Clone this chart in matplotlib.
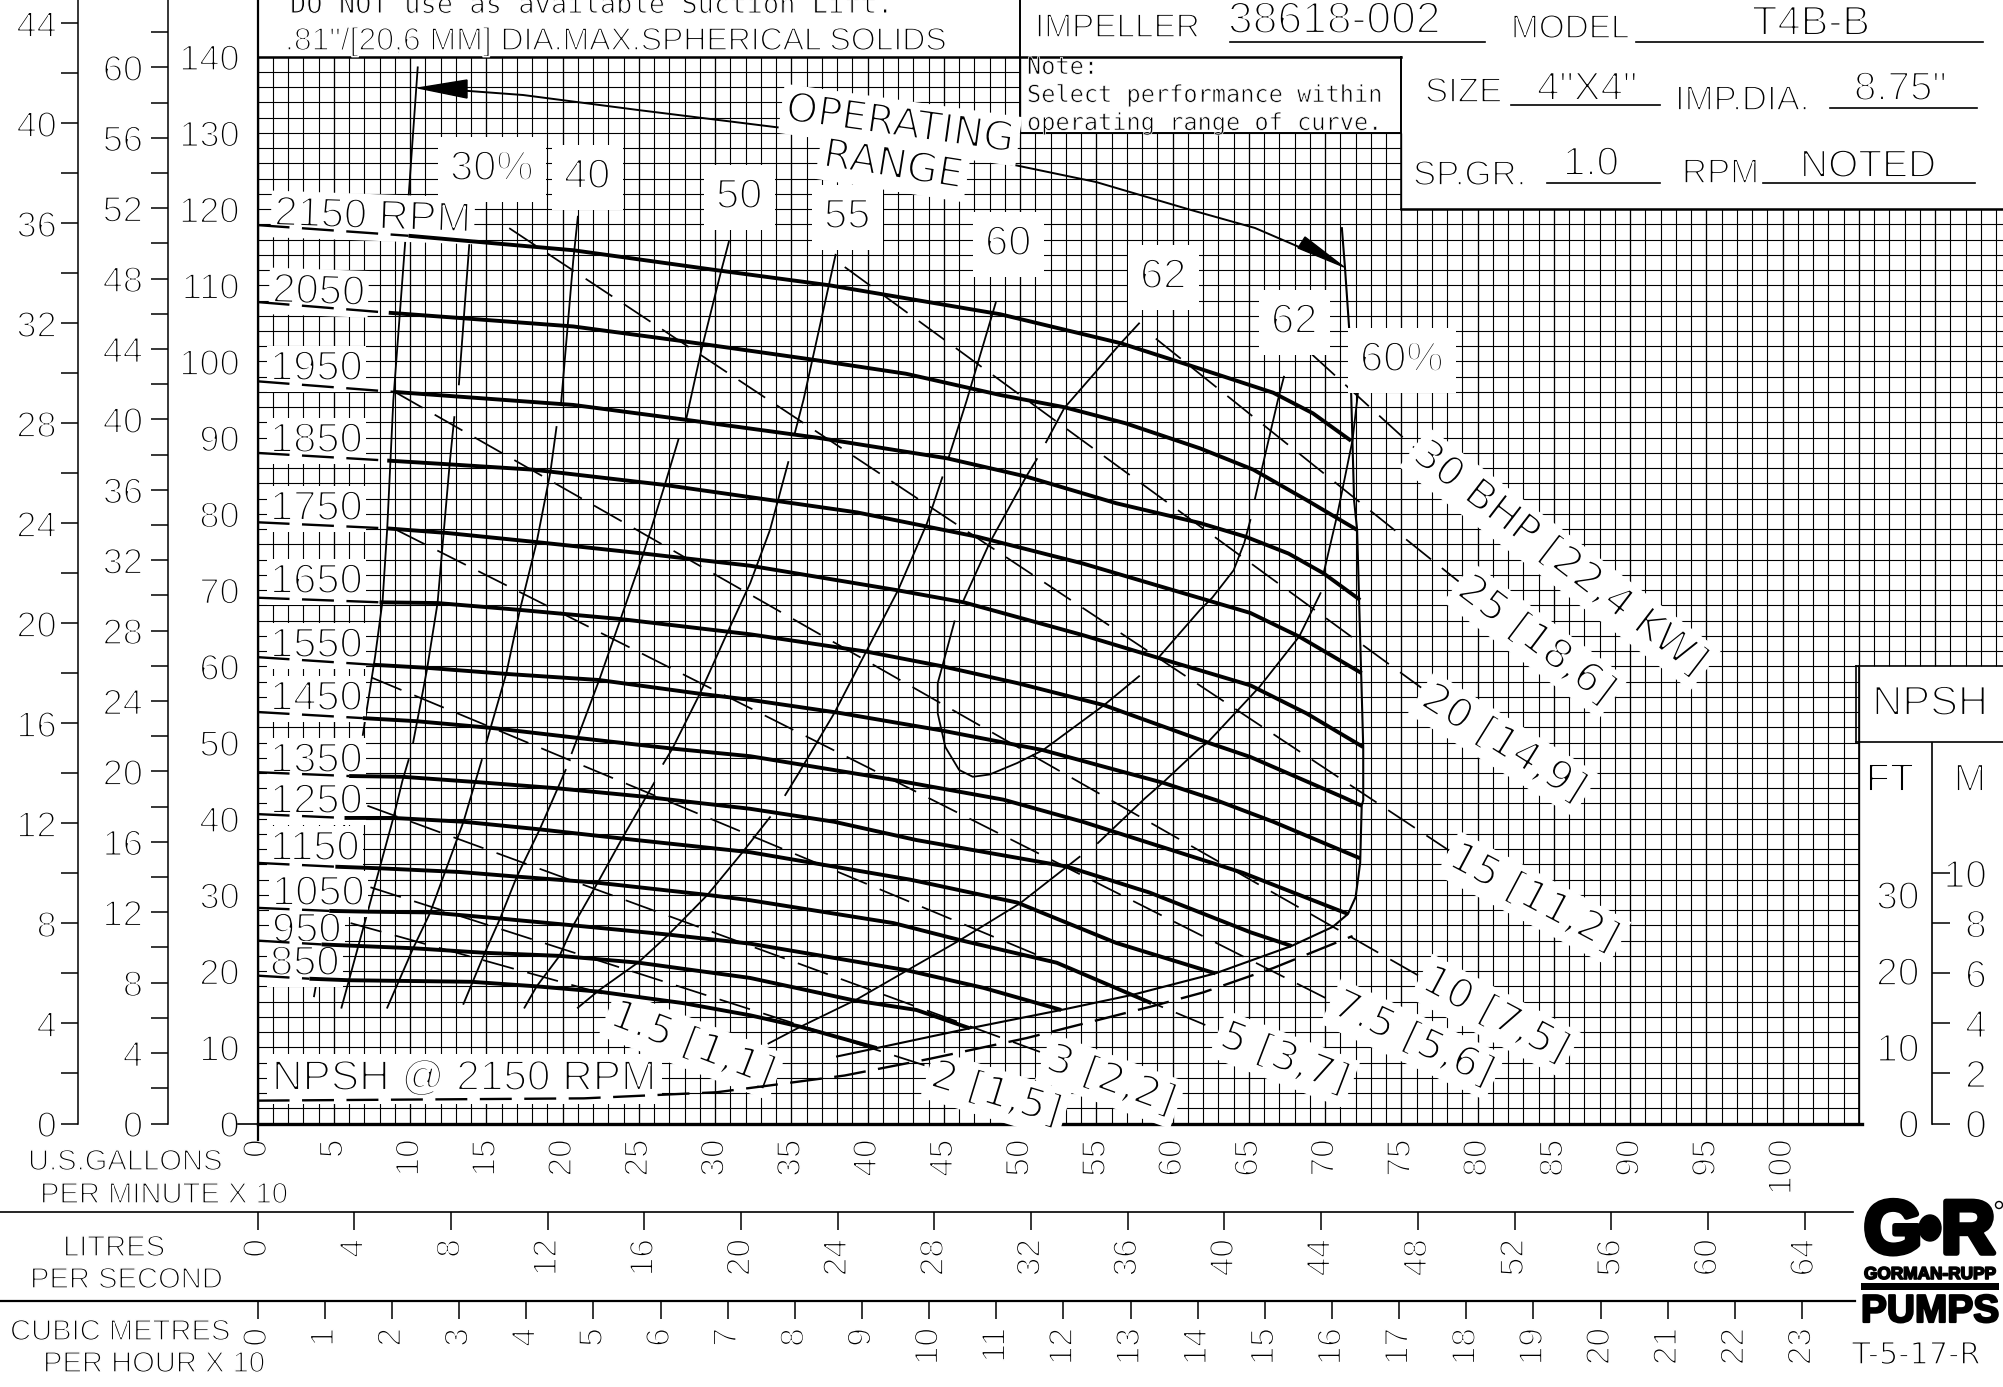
import numpy as np
import matplotlib
matplotlib.use("Agg")
import matplotlib.pyplot as plt
import matplotlib.patheffects as pe
from matplotlib.patches import Ellipse, Rectangle

plt.rcParams['font.family'] = ['Liberation Sans', 'DejaVu Sans']
plt.rcParams['lines.scale_dashes'] = False

# head-capacity curves, capacity in GPM x 10, head in ft
rpm_names = [2150, 2050, 1950, 1850, 1750, 1650, 1550, 1450, 1350, 1250, 1150, 1050, 950, 850]
shutoff_head = [117.9, 107.8, 97.4, 88, 78.9, 69, 61.2, 54, 46.1, 40.6, 34.2, 28.3, 24, 19.4]

q_2150 = [9.9, 20.7, 30.4, 37.5, 48.7, 56.6, 60.8, 66.6, 69.2, 71.7]
h_2150 = [116.5, 114.6, 111.9, 110, 106.2, 102.4, 99.7, 95.9, 93.2, 89.6]
q_2050 = [8.6, 20.7, 27.4, 36.2, 42.5, 48.7, 52.9, 56.9, 61.8, 65.3, 68.8, 72.1]
h_2050 = [106.4, 104.6, 102.8, 100.3, 98.4, 95.6, 94, 91.9, 88.6, 85.8, 81.8, 77.9]
q_1950 = [9, 20.7, 27.9, 36.7, 45.2, 50.4, 56.3, 61.8, 64.8, 67.6, 69.9, 72.3]
h_1950 = [96, 94.3, 92.4, 90, 87.3, 84.9, 81.4, 78.8, 77, 74.8, 72.2, 68.7]
q_1850 = [8.5, 12.6, 18.1, 26.7, 32.3, 39.3, 47.2, 54.1, 60.7, 65.1, 68.3, 72.4]
h_1850 = [87, 86.5, 85.8, 83.8, 82.2, 80.2, 77, 73.5, 69.6, 67, 63.9, 59.1]
q_1750 = [8.5, 12.4, 18.3, 25.3, 32.3, 41.9, 46.3, 54.1, 58.9, 65.1, 68.8, 72.5]
h_1750 = [78.1, 77.5, 76.3, 74.8, 73.2, 70, 68.4, 64.1, 61.2, 57.5, 53.8, 49.4]
q_1650 = [8, 11.8, 17.2, 23.8, 32.3, 40, 44.9, 49.8, 55.5, 62.3, 65.1, 71.2, 72.4]
h_1650 = [68.4, 68.3, 67.4, 66.2, 64.2, 61.9, 60, 57.8, 54.9, 50, 48.1, 42.8, 41.7]
q_1550 = [7.6, 11.1, 16.3, 22.4, 29, 32.3, 38.1, 44.8, 51.5, 59.4, 62.9, 66.6, 72.3]
h_1550 = [60.2, 59.8, 59, 58.2, 56.4, 55.6, 53.9, 51.6, 49, 44.7, 42.4, 39.6, 34.8]
q_1450 = [6.9, 10.4, 15.4, 21, 27.2, 32.3, 41.7, 48.9, 54.1, 61.8, 64.6, 71.5]
h_1450 = [53.2, 52.8, 51.9, 50.6, 49.2, 48.2, 45.1, 42.5, 39.6, 34.7, 32.9, 27.5]
q_1350 = [6, 9.5, 14.4, 19.6, 25.3, 32.3, 37.8, 43.2, 53.1, 58.5, 61.8, 65.1, 67.8]
h_1350 = [45.6, 45.5, 44.8, 44, 42.9, 41.3, 39.6, 37.2, 33.7, 30.3, 27.7, 25.1, 23.3]
q_1250 = [5.7, 8.9, 13.5, 18.5, 23.9, 32.3, 42.8, 49.8, 56.3, 62.8]
h_1250 = [40.1, 40.1, 39.6, 38.6, 37.4, 35.6, 32, 29, 23.7, 19.7]
q_1150 = [5.1, 7.9, 13.3, 17, 22.3, 29.5, 32.3, 41.7, 46, 52.4, 58.6]
h_1150 = [33.7, 33.5, 33, 32.4, 31.6, 30, 29.3, 26.3, 24.1, 21.1, 15.8]
q_1050 = [4.7, 7.2, 11.3, 15.9, 20.7, 26.9, 32.3, 42.6, 47.6, 52.7]
h_1050 = [27.9, 27.8, 27.7, 26.9, 26, 24.8, 23.6, 20.1, 17.8, 14.9]
q_950 = [4.2, 10.2, 14.9, 19.8, 25, 32.3, 39, 43.2, 46.7]
h_950 = [23.5, 23, 22.4, 22, 21.1, 19.1, 16.2, 14.9, 12.5]
q_850 = [3.4, 6, 14, 18.3, 22.4, 27.9, 32.3, 35.6, 40.6]
h_850 = [19, 18.8, 18.6, 18, 17.3, 15.8, 14.2, 12.7, 9.9]

rpm_q = [q_2150, q_2050, q_1950, q_1850, q_1750, q_1650, q_1550, q_1450, q_1350, q_1250, q_1150, q_1050, q_950, q_850]
rpm_h = [h_2150, h_2050, h_1950, h_1850, h_1750, h_1650, h_1550, h_1450, h_1350, h_1250, h_1150, h_1050, h_950, h_850]

# efficiency curves, nan marks a break in the pen
nan = float('nan')
eff_30_q = [3.7, 5.2, 6.3, nan, 6.9, 7.7, 8.2, 8.5, 8.9, 9.9, 10.5]
eff_30_h = [16.7, 33.8, 46, nan, 51, 61.2, 68.7, 78.1, 94.9, 121.6, 138.6]
eff_35_q = [5.5, 8.9, 9.5, 9.9, nan, 10.2, 11.1, 11.8, 12.6, 12.9, nan, 13.2, 13.9]
eff_35_h = [15.2, 40.1, 45, 47.7, nan, 50, 59.5, 68.3, 86.7, 92.7, nan, 97, 115.9]
eff_40_q = [8.5, 10.2, 11.3, 13.5, 14.3, 14.7, nan, 15, 16.3, 17.2, 18.3, 19.2, 19.6, nan, 19.9, 20.7, 21]
eff_40_h = [15.2, 23, 27.6, 39.6, 45, 47.7, nan, 50, 59, 67.4, 76.3, 85.5, 91.4, nan, 94.5, 113.3, 119]
eff_50_q = [13.5, 14.9, 15.9, 17, 18.5, 19.9, 20.2, nan, 20.6, 22.4, 23.8, 25.3, 26.7, 27.6, nan, 28.1, 29.1, 30.4, 30.9]
eff_50_h = [15.7, 22.4, 26.9, 32.4, 38.6, 45, 46.4, nan, 48.6, 58.2, 66.2, 74.8, 83.8, 89.8, nan, 92.4, 101.5, 111.9, 115.7]
eff_55_q = [17.5, 18.3, 19.8, 20.7, 22.3, 23.9, 26, nan, 26.6, 27.2, 29, 30.8, 32.3, 33.6, 34.8, nan, 35.2, 35.8, 37.9]
eff_55_h = [15.2, 18, 22, 26, 31.6, 37.4, 44.7, nan, 47.2, 49.2, 56.4, 64.4, 70.9, 77.9, 86.8, nan, 90.4, 95, 114]
eff_60_q = [21, 22.4, 25, 26.9, 29.5, 31.8, 33.6, nan, 34.6, 35.4, 37.8, 39.9, 42, 43.9, 44.9, nan, 45.3, 46.5, 48.4]
eff_60_h = [15.2, 17.5, 21.2, 24.7, 30, 35.6, 40.2, nan, 43.1, 45.7, 53.8, 61.9, 70, 78.8, 84.8, nan, 87.3, 94.9, 107.7]
eff_62_q = [57.8, 56.6, 52.9, 51.7, nan, 51.1, 50.4, 48, 46.3, nan, 45.7, 44.9, 44.6, 44.6, 45.1, 46, 46.9, 48, 49.8, 51.5, 55.5, 57.8, nan,
            59.1, 61.8, 62.6, 64, 64.7, 65.1, nan, 65.4, 66.9, 67.3]
eff_62_h = [105, 102.4, 93.9, 89.4, nan, 87.2, 84.9, 76.2, 68.7, nan, 65.9, 60, 57.8, 53.8, 49.4, 46.4, 45.5, 45.8, 47.3, 49, 54.9, 58.7, nan,
            61.2, 67.4, 69, 72.6, 76.2, 79.2, nan, 82, 94.9, 98]
eff_r60_q = [33.5, 35.6, 39.3, 42.6, 46, 50, 53.9, nan, 55.1, 58.2, 59.4, 61.8, 62.3, 65.7, 68.3, 69.7, nan, 69.9, 70.8, 71.8, 72.2]
eff_r60_h = [10.5, 12.7, 16.3, 20.1, 24, 28.9, 35, nan, 36.8, 42.7, 44.8, 49.3, 50, 57.3, 63.9, 69.6, nan, 72.2, 79.9, 89.7, 96.7]

eff_q = [eff_30_q, eff_35_q, eff_40_q, eff_50_q, eff_55_q, eff_60_q, eff_62_q, eff_r60_q]
eff_h = [eff_30_h, eff_35_h, eff_40_h, eff_50_h, eff_55_h, eff_60_h, eff_62_h, eff_r60_h]

# operating range limit, right side and bottom
limit_q = [71.1, 71.3, 71.6, 71.9, 72.1, 72.5, 72.5, 72.4, 72.3, 72, 71.5, 70.5, 67.8, 62.8, 57.4, 52.7, 46.7, 40.6, 38]
limit_h = [117.5, 112.4, 103.7, 81.8, 77.9, 49.4, 42.4, 41.7, 34.2, 29.7, 27.5, 25.8, 23.3, 19.7, 16.9, 14.9, 12.5, 9.9, 8.8]

npsh_q = [0, 21.4, 30.1, 33.6, 38.5, 44.1, 50.4, 58.5, 62, 66.6, 71.8]
npsh_h = [3, 3.3, 4.1, 5, 6.3, 8.5, 11.2, 15.3, 17.2, 20.4, 24.6]

# brake horsepower lines, start and end of each
bhp_q = [[6.1, 27], [7.4, 44.1], [7.2, 51.3], [7.5, 62.9], [9.1, 70.4], [9, 76.4], [16.5, 78.3], [38.5, 76.3], [58.9, 78.9], [69.1, 75.9]]
bhp_h = [[26.3, 14.6], [31, 7.4], [41.7, 9.4], [58.5, 12.3], [77.9, 16.1], [96, 19.1], [117.5, 35.6], [112.4, 57.2], [103, 70.9], [101, 88.6]]
bhp_text = ["1.5 [1,1]", "2 [1,5]", "3 [2,2]", "5 [3,7]", "7.5 [5,6]", "10 [7,5]", "15 [11,2]", "20 [14,9]", "25 [18,6]", "30 BHP [22,4 KW]"]

gpm_ticks = list(range(0, 101, 5))
lps_ticks = list(range(0, 65, 4))
cmh_ticks = list(range(0, 24))
ft_ticks = list(range(0, 141, 10))
psi_ticks = list(range(0, 61, 4))
psi_minor = list(range(2, 63, 4))
m_ticks = list(range(0, 45, 4))
m_minor = list(range(2, 47, 4))
npsh_m = [0, 2, 4, 6, 8, 10]
npsh_ft = [0, 10, 20, 30]

W, H = 2003, 1387
X0, Y0 = 257.6, 1123.5
fig = plt.figure(figsize=(W / 100, H / 100), dpi=100)
ax = fig.add_axes([X0 / W, 1 - Y0 / H, 1 - X0 / W, Y0 / H])
xmax = (W - X0) / 15.25
ymax = Y0 / 7.62
ax.set_xlim(0, xmax)
ax.set_ylim(0, ymax)
for s in ax.spines.values():
    s.set_visible(False)


def thin(size, k=0.05):
    return [pe.Stroke(linewidth=size * k, foreground='white')]


# paper grid, stepped outline like the original sheet
for q in range(0, 115):
    lo = 60 if q > 105 else 0
    hi = 120 if q > 75 else (130 if q > 50 else 140)
    ax.vlines(q, lo, hi, color='k', lw=0.95 if q % 5 == 0 else 0.8, zorder=1)
for h in range(0, 141, 2):
    if h > 130:
        right = 50
    elif h > 120:
        right = 75
    elif h > 60:
        right = xmax
    else:
        right = 105
    ax.hlines(h, 0, right, color='k', lw=0.8, zorder=1)

ax.plot([0, 0], [-2.2, ymax], color='k', lw=1.6, clip_on=False, zorder=2)
ax.plot([0, 105.2], [0, 0], color='k', lw=2.4, clip_on=False, zorder=2)
ax.plot([-1.3, 0], [0, 0], color='k', lw=1.2, clip_on=False, zorder=2)
ax.plot([0, 75], [140, 140], color='k', lw=1.8, zorder=2)
ax.plot([75, xmax], [120, 120], color='k', lw=1.8, zorder=2)
ax.plot([50, 50], [130, ymax], color='k', lw=1.4, zorder=2)
ax.plot([50, 75, 75], [130, 130, 140], color='k', lw=1.4, zorder=2)
ax.plot([75, 75], [120, 130], color='k', lw=1.1, zorder=2)
ax.plot([105, 105], [0, 60], color='k', lw=1.2, zorder=2)

# thin curves sit under the white label boxes
for q, h in zip(eff_q, eff_h):
    ax.plot(q, h, color='k', lw=1.3, solid_joinstyle='round', zorder=3)
ax.plot(limit_q, limit_h, color='k', lw=1.5, zorder=3)
for q, h in zip(bhp_q, bhp_h):
    ax.plot(q, h, color='k', lw=1.25, dashes=(23, 10), zorder=3)

# bottom and side scales
size_tick = 24
ax.set_xticks(gpm_ticks)
ax.set_yticks([])
ax.tick_params(axis='x', length=0, pad=11.5, labelsize=size_tick, labelrotation=90)
for t in ax.get_xticklabels():
    t.set_path_effects(thin(size_tick))

sec_lps = ax.secondary_xaxis(-88.5 / Y0, functions=(lambda q: q * 0.6309, lambda v: v / 0.6309))
sec_lps.set_xticks(lps_ticks)
sec_cmh = ax.secondary_xaxis(-177.5 / Y0, functions=(lambda q: q * 0.2271, lambda v: v / 0.2271))
sec_cmh.set_xticks(cmh_ticks)
for sec in (sec_lps, sec_cmh):
    sec.spines['bottom'].set_visible(False)
    sec.tick_params(axis='x', length=13, width=1.1, pad=6.5, labelsize=size_tick, labelrotation=90)
    for t in sec.get_xticklabels():
        t.set_path_effects(thin(size_tick))

left_scales = [
    ((78.4 - X0) / (W - X0), 3.281, m_ticks, m_minor, 3.6),
    ((168 - X0) / (W - X0), 2.31, psi_ticks, psi_minor, 6),
]
for loc, factor, major, minor, pad in left_scales:
    sec = ax.secondary_yaxis(loc, functions=(lambda h, f=factor: h / f, lambda v, f=factor: v * f))
    sec.set_yticks(major)
    sec.set_yticks(minor, minor=True)
    sec.spines['right'].set_visible(False)
    sec.spines['top'].set_visible(False)
    sec.spines['bottom'].set_visible(False)
    sec.spines['left'].set_linewidth(1.1)
    sec.tick_params(axis='y', which='both', length=12, width=1.1, pad=pad, labelsize=26)
    for t in sec.get_yticklabels():
        t.set_path_effects(thin(26))

sec_ft = ax.secondary_yaxis(0, functions=(lambda h: h, lambda h: h))
sec_ft.set_yticks(ft_ticks)
sec_ft.spines['left'].set_visible(False)
sec_ft.tick_params(axis='y', length=0, pad=13, labelsize=26)
for t in sec_ft.get_yticklabels():
    t.set_path_effects(thin(26))

npsh_loc = (1932 - X0) / (W - X0)
ax.plot([npsh_loc * xmax] * 2, [0, 50], color='k', lw=1.2, clip_on=False, zorder=2)
sec_m = ax.secondary_yaxis(npsh_loc, functions=(lambda h: h / 3.281, lambda v: v * 3.281))
sec_m.yaxis.tick_right()
sec_m.set_yticks(npsh_m)
sec_m.spines['left'].set_visible(False)
sec_m.spines['right'].set_visible(False)
sec_m.tick_params(axis='y', length=13, width=1.1, pad=26.5, labelsize=28)
for t in sec_m.get_yticklabels():
    t.set_ha('right')
    t.set_path_effects(thin(28))
sec_f = ax.secondary_yaxis(npsh_loc, functions=(lambda h: h, lambda h: h))
sec_f.yaxis.tick_left()
sec_f.set_yticks(npsh_ft)
sec_f.spines['left'].set_visible(False)
sec_f.spines['right'].set_visible(False)
sec_f.tick_params(axis='y', length=0, pad=9, labelsize=28)
for t in sec_f.get_yticklabels():
    t.set_ha('right')
    t.set_path_effects(thin(28))

# drawing furniture on a sheet axes in picture pixels
fx = fig.add_axes([0, 0, 1, 1], zorder=5)
fx.set_xlim(0, W)
fx.set_ylim(H, 0)
fx.axis('off')
fx.patch.set_alpha(0)


def cad(x, y, s, size, rot=0, ha='left', va='baseline', box=False, fam=None, k=0.05, pad=0.14):
    kw = {}
    if box:
        kw['bbox'] = dict(boxstyle='square,pad=%g' % pad, fc='w', ec='none')
    if fam:
        kw['family'] = fam
    return fx.text(x, y, s, fontsize=size, rotation=rot, ha=ha, va=va, rotation_mode='anchor',
                   path_effects=thin(size, k), color='k', **kw)


# header
cad(290, 13, "DO NOT use as available Suction Lift.", 19.5, fam='DejaVu Sans Mono', k=0.04)
cad(285, 50, '.81"/[20,6 MM] DIA.MAX.SPHERICAL SOLIDS', 23)
rows = [
    (1035, 37, "IMPELLER", 24), (1228, 33, "38618-002", 32), (1511, 38, "MODEL", 24), (1752, 35, "T4B-B", 30),
    (1425, 102, "SIZE", 25), (1537, 100, '4"X4"', 29), (1675, 110, "IMP.DIA.", 25), (1854, 100, '8.75"', 29),
    (1413, 185, "SP.GR.", 25), (1563, 175, "1.0", 29), (1682, 183, "RPM", 25), (1800, 177, "NOTED", 28),
]
for x, y, s, size in rows:
    cad(x, y, s, size)
for x0, x1, y in [(1230, 1485, 42), (1636, 1983, 42), (1511, 1660, 105), (1830, 1977, 108), (1547, 1660, 183), (1763, 1975, 183)]:
    fx.plot([x0, x1], [y, y], color='k', lw=1.2)

cad(1027, 74, "Note:", 17, fam='DejaVu Sans Mono', k=0.03)
cad(1027, 102, "Select performance within", 17, fam='DejaVu Sans Mono', k=0.03)
cad(1027, 130, "operating range of curve.", 17, fam='DejaVu Sans Mono', k=0.03)

# bottom captions
cad(28, 1170, "U.S.GALLONS", 21)
cad(40, 1203, "PER MINUTE X 10", 21)
cad(63, 1256, "LITRES", 21)
cad(30, 1288, "PER SECOND", 21)
cad(10, 1340, "CUBIC METRES", 21)
cad(43, 1372, "PER HOUR X 10", 21)
fx.plot([0, 1853], [1212, 1212], color='k', lw=1.2)
fx.plot([0, 1855], [1301, 1301], color='k', lw=1.6)

# npsh panel
fx.plot([1856, W], [666, 666], color='k', lw=1.2)
fx.plot([1856, W], [742, 742], color='k', lw=1.2)
fx.plot([1856, 1856], [666, 742], color='k', lw=1.2)
cad(1930, 704, "NPSH", 30, ha='center', va='center')
cad(1890, 781, "FT", 28, ha='center', va='center')
cad(1970, 781, "M", 28, ha='center', va='center')

# speed labels
rpm_pos = [(274, 225, -2), (272, 302, -2), (270, 380, 0), (270, 452, 0), (270, 520, 0), (270, 593, 0), (270, 657, 0),
           (270, 710, 0), (270, 772, 0), (270, 813, 0), (270, 860, 0), (272, 905, 0), (272, 942, 0), (270, 975, 0)]
for i, (name, (x, y, r)) in enumerate(zip(rpm_names, rpm_pos)):
    s = "%d RPM" % name if i == 0 else str(name)
    cad(x, y, s, 30, rot=r, box=True, pad=0.08)
cad(272, 1090, "NPSH @ 2150 RPM", 30.5, box=True, pad=0.12)

# efficiency labels
for x, y, s in [(450, 180, "30%"), (564, 188, "40"), (716, 208, "50"), (824, 228, "55"), (985, 255, "60"),
                (1140, 288, "62"), (1271, 333, "62"), (1360, 371, "60%")]:
    cad(x, y, s, 30, box=True, pad=0.3)

# bhp labels
bhp_pos = [(612, 1014, -21), (932, 1075, -17), (1048, 1058, -20), (1222, 1035, -21), (1335, 1003, -25),
           (1425, 978, -28), (1452, 855, -28), (1425, 695, -32), (1462, 585, -37), (1418, 450, -37.5)]
for s, (x, y, r) in zip(bhp_text, bhp_pos):
    cad(x, y, s, 29, rot=r, va='center', box=True, fam='DejaVu Sans', k=0.05, pad=0.12)

# operating range callout
cad(900, 125, "OPERATING", 29, rot=-8, ha='center', va='center', box=True, fam='DejaVu Sans', k=0.05, pad=0.12)
cad(893, 166, "RANGE", 29, rot=-9, ha='center', va='center', box=True, fam='DejaVu Sans', k=0.05, pad=0.12)
fx.plot([823, 638, 523, 469, 430], [133, 110, 95, 91, 89], color='k', lw=1.4)
fx.fill([418, 467, 467], [88, 80, 98], color='k')
fx.plot([969, 1000, 1096, 1191, 1255, 1320], [157, 162, 182, 210, 228, 256], color='k', lw=1.4)
fx.fill([1344, 1305, 1298], [267, 237, 248], color='k')

# logo
heavy = [pe.Stroke(linewidth=4, foreground='k'), pe.Normal()]
fx.text(1893, 1253, "G", fontsize=54, weight='bold', ha='center', va='baseline', path_effects=heavy)
fx.text(1968, 1253, "R", fontsize=54, weight='bold', ha='center', va='baseline', path_effects=heavy)
fx.add_patch(Ellipse((1930, 1228), 22, 26, fc='k', ec='k'))
fx.add_patch(Ellipse((1999, 1205), 7, 7, fc='w', ec='k', lw=1))
fx.text(1930, 1279, "GORMAN-RUPP", fontsize=12.4, weight='bold', ha='center', va='baseline',
        path_effects=[pe.Stroke(linewidth=1.2, foreground='k'), pe.Normal()])
fx.add_patch(Rectangle((1861, 1283), 138, 7, fc='k', ec='none'))
fx.text(1930, 1322, "PUMPS", fontsize=28, weight='bold', ha='center', va='baseline',
        path_effects=[pe.Stroke(linewidth=1.6, foreground='k'), pe.Normal()])
cad(1852, 1364, "T-5-17-R", 22, fam='DejaVu Sans', k=0.05)

# head curves and the dashed runs stay on top of the boxes, as on the sheet
ov = fig.add_axes(ax.get_position(), zorder=6)
ov.set_xlim(ax.get_xlim())
ov.set_ylim(ax.get_ylim())
ov.axis('off')
ov.patch.set_alpha(0)
for h0, q, h in zip(shutoff_head, rpm_q, rpm_h):
    ov.plot([0, q[0]], [h0, h[0]], color='k', lw=1.7, dashes=(23, 9))
    ov.plot(q, h, color='k', lw=2.8, solid_capstyle='butt', solid_joinstyle='round')
ov.plot(npsh_q, npsh_h, color='k', lw=1.7, dashes=(23, 9))

fig.savefig("out.png", dpi=100, facecolor='white')
